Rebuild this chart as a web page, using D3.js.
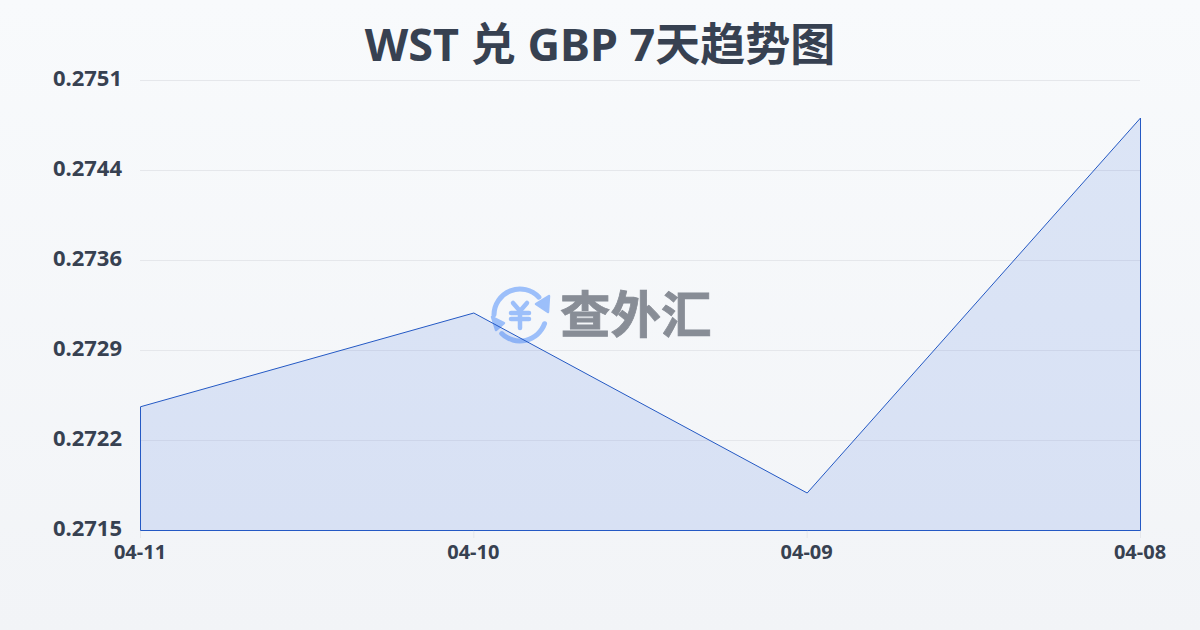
<!DOCTYPE html>
<html>
<head>
<meta charset="utf-8">
<script src="https://cdn.jsdelivr.net/npm/d3@7"></script>
<style>
  html, body { margin: 0; padding: 0; }
  text { font-family: "Noto Sans", "Noto Sans CJK SC", sans-serif; }
</style>
</head>
<body>
<svg id="chart" width="1200" height="630"></svg>
<script>
// data
const dates = ["04-11", "04-10", "04-09", "04-08"];
const rates = [0.27249, 0.27324, 0.2718, 0.2748];
const rateTicks = [0.2715, 0.2722, 0.2729, 0.2736, 0.2744, 0.2751];
const rateTickPositions = [0, 0.2, 0.4, 0.6, 0.8, 1];
const titleText = "WST 兑 GBP 7天趋势图";
const watermarkText = "查外汇";

const svg = d3.select("#chart"),
    width = +svg.attr("width"),
    height = +svg.attr("height"),
    margin = {top: 80, right: 60, bottom: 100, left: 140},
    textColor = "#374151",
    iconColor = "#9cbffa";

const x = d3.scalePoint().domain(dates).range([margin.left, width - margin.right]);
const y = d3.scaleLinear().domain([0.2715, 0.2751]).range([height - margin.bottom, margin.top]);

// background
const grad = svg.append("defs").append("linearGradient")
    .attr("id", "bg").attr("x1", "0%").attr("y1", "0%").attr("x2", "0%").attr("y2", "100%");
grad.append("stop").attr("offset", "0%").attr("stop-color", "#f8fafc");
grad.append("stop").attr("offset", "100%").attr("stop-color", "#f2f4f7");
svg.append("rect").attr("width", width).attr("height", height).attr("fill", "url(#bg)");

svg.append("text")
    .attr("x", width / 2).attr("y", 61)
    .attr("text-anchor", "middle")
    .attr("font-size", 45).attr("font-weight", 700)
    .attr("fill", textColor)
    .text(titleText);

// grid + y labels, ticks sit evenly, labels are rounded
const tickPos = d3.scaleLinear().domain([0, 1]).range(y.range());
svg.append("g").selectAll("line")
    .data(rateTickPositions)
  .enter().append("line")
    .attr("x1", margin.left).attr("x2", width - margin.right)
    .attr("y1", d => tickPos(d) + 0.5).attr("y2", d => tickPos(d) + 0.5)
    .attr("stroke", "#e5e7eb").attr("stroke-width", 1);

svg.append("g").selectAll("text")
    .data(rateTicks)
  .enter().append("text")
    .attr("x", 122)
    .attr("y", (d, i) => tickPos(rateTickPositions[i]) + 6)
    .attr("text-anchor", "end")
    .attr("font-size", 22).attr("font-weight", 700)
    .attr("fill", textColor)
    .text(d => d.toFixed(4));

// x ticks
svg.append("g").selectAll("line")
    .data(dates)
  .enter().append("line")
    .attr("x1", d => x(d) + 0.5).attr("x2", d => x(d) + 0.5)
    .attr("y1", y.range()[0]).attr("y2", y.range()[0] + 8)
    .attr("stroke", "#e5e7eb");

svg.append("g").selectAll("text")
    .data(dates)
  .enter().append("text")
    .attr("x", d => x(d))
    .attr("y", 559)
    .attr("text-anchor", "middle")
    .attr("font-size", 20).attr("font-weight", 700)
    .attr("fill", textColor)
    .text(d => d);

// watermark
const mark = svg.append("g").attr("transform", "translate(520,315)");
const deg = Math.PI / 180;
const ring = d3.arc().innerRadius(23.5).outerRadius(28.5).cornerRadius(2.4);
[[-95, 52], [104, 230]].forEach(function(a) {
  mark.append("path")
      .attr("d", ring({startAngle: a[0] * deg, endAngle: a[1] * deg}))
      .attr("fill", iconColor);
});
[[[29, -19], [16, -11], [28, -3]], [[-28, 2], [-16, 8], [-24, 15]]].forEach(function(t) {
  mark.append("path")
      .attr("d", d3.line()(t) + "Z")
      .attr("fill", iconColor)
      .attr("stroke", iconColor)
      .attr("stroke-width", 2.5)
      .attr("stroke-linejoin", "round");
});
[[[-7, -12], [0, -4], [7, -12]], [[-9, -2], [9, -2]], [[-9, 4], [9, 4]], [[0, -4], [0, 13]]].forEach(function(s) {
  mark.append("path")
      .attr("d", d3.line()(s))
      .attr("fill", "none")
      .attr("stroke", iconColor)
      .attr("stroke-width", 4.5)
      .attr("stroke-linecap", "round")
      .attr("stroke-linejoin", "round");
});
svg.append("text")
    .attr("x", 560).attr("y", 333)
    .attr("font-size", 50.5).attr("font-weight", 700)
    .attr("fill", "#888d96")
    .attr("stroke", "#888d96")
    .attr("stroke-width", 0.8)
    .text(watermarkText);

// area
const area = d3.area()
    .x((d, i) => x(dates[i]))
    .y0(y(0.2715))
    .y1(d => y(d));

svg.append("path")
    .datum(rates)
    .attr("transform", "translate(0.5,0.5)")
    .attr("d", area)
    .attr("fill", "#4071de")
    .attr("fill-opacity", 0.15)
    .attr("stroke", "#2459c4")
    .attr("stroke-width", 1);
</script>
</body>
</html>
